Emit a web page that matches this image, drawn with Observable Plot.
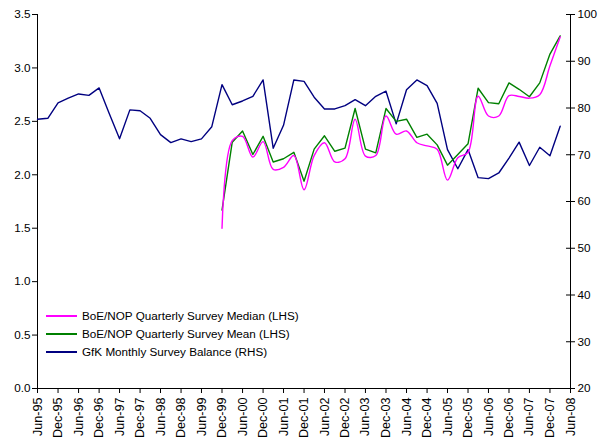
<!DOCTYPE html>
<html><head><meta charset="utf-8">
<script src="https://cdn.jsdelivr.net/npm/d3@7"></script>
<script src="https://cdn.jsdelivr.net/npm/@observablehq/plot@0.6"></script>
<style>
body{margin:0;background:#fff;font-family:"Liberation Sans",Arial,sans-serif}
#wrap{position:relative;width:598px;height:439px}
#legend{position:absolute;left:46px;top:307px;font-size:11.7px;color:#000;line-height:18px}
#legend .row{display:flex;align-items:center;height:18px}
#legend .sw{width:31px;height:0;border-top:2px solid;margin-right:5px}
</style></head>
<body><div id="wrap"><div id="chart"></div>
<div id="legend"></div></div>
<script>
// ---- data (quarterly observations) ----
const gfkStart = "Jun-95";
const gfkBalance = [77.6,77.8,81.1,82.1,83.0,82.7,84.3,78.8,73.4,79.6,79.4,77.8,74.3,72.6,73.4,72.8,73.4,76.0,85.0,80.7,81.5,82.5,86.0,71.4,76.3,86.0,85.7,82.3,79.8,79.8,80.5,81.8,80.5,82.5,83.6,76.6,83.9,86.0,84.8,81.0,71.1,67.0,71.1,65.1,64.9,66.1,69.3,72.7,67.7,71.6,69.8,76.1];
const boeStart = "Dec-99";
const boeMedian = [1.50,2.32,2.36,2.165,2.31,2.05,2.07,2.18,1.86,2.18,2.30,2.12,2.15,2.52,2.175,2.18,2.55,2.38,2.41,2.30,2.27,2.24,1.95,2.16,2.21,2.735,2.55,2.55,2.74,2.733,2.717,2.75,3.02,3.29];
const boeMean   = [1.67,2.305,2.41,2.19,2.36,2.12,2.15,2.21,1.94,2.24,2.365,2.22,2.25,2.62,2.24,2.205,2.62,2.50,2.52,2.35,2.38,2.28,2.09,2.19,2.29,2.81,2.675,2.665,2.86,2.80,2.73,2.86,3.13,3.30];
const xTickLabels = ["Jun-95","Dec-95","Jun-96","Dec-96","Jun-97","Dec-97","Jun-98","Dec-98","Jun-99","Dec-99","Jun-00","Dec-00","Jun-01","Dec-01","Jun-02","Dec-02","Jun-03","Dec-03","Jun-04","Dec-04","Jun-05","Dec-05","Jun-06","Dec-06","Jun-07","Dec-07","Jun-08"];
const leftTicks = [0,0.5,1,1.5,2,2.5,3,3.5];
const rightTicks = [20,30,40,50,60,70,80,90,100];
const seriesNames = ["BoE/NOP Quarterly Survey Median (LHS)","BoE/NOP Quarterly Survey Mean (LHS)","GfK Monthly Survey Balance (RHS)"];
const seriesColors = ["#ff00ff","#008000","#000080"];

// ---- helpers ----
const parse = d3.utcParse("%b-%y");
const fmt = d3.utcFormat("%b-%y");
const q = (start, i) => d3.utcMonth.offset(parse(start), 3 * i);
const rMin = 20, rMax = 100, lMax = 3.5;
const toLeft = v => (v - rMin) / (rMax - rMin) * lMax;
const toRight = v => v / lMax * (rMax - rMin) + rMin;

const gfk = gfkBalance.map((v, i) => ({date: q(gfkStart, i), y: toLeft(v)}));
const med = boeMedian.map((v, i) => ({date: q(boeStart, i), y: v}));
const mean = boeMean.map((v, i) => ({date: q(boeStart, i), y: v}));
const xTicks = xTickLabels.map(parse);
const xDomain = [xTicks[0], xTicks[xTicks.length - 1]];

const chart = Plot.plot({
  width: 598, height: 439,
  marginLeft: 37, marginRight: 28, marginTop: 14, marginBottom: 51,
  style: {fontFamily: '"Liberation Sans", Arial, sans-serif', fontSize: "11.7px", color: "#000", background: "#fff"},
  x: {type: "utc", domain: xDomain},
  y: {domain: [0, lMax]},
  marks: [
    Plot.axisY(leftTicks, {anchor: "left", tickSize: 5, tickPadding: 2, tickFormat: d3.format(".1f"), label: null}),
    Plot.axisY(rightTicks.map(toLeft), {anchor: "right", tickSize: 4, tickPadding: 3, tickFormat: d => String(Math.round(toRight(d))), label: null}),
    Plot.axisY(rightTicks.map(toLeft), {anchor: "right", tickSize: -5, text: null, label: null}),
    Plot.axisX(xTicks, {anchor: "bottom", tickSize: 5, tickPadding: 4, tickRotate: -90, tickFormat: fmt, label: null, fontSize: "12.6px"}),
    Plot.ruleX(xDomain, {stroke: "#000"}),
    Plot.ruleY([0], {stroke: "#000"}),
    Plot.line(gfk, {x: "date", y: "y", stroke: seriesColors[2], strokeWidth: 1.4}),
    Plot.line(mean, {x: "date", y: "y", stroke: seriesColors[1], strokeWidth: 1.4}),
    Plot.line(med, {x: "date", y: "y", stroke: seriesColors[0], strokeWidth: 1.4, curve: "catmull-rom"})
  ]
});
document.getElementById("chart").appendChild(chart);

const legend = document.getElementById("legend");
seriesNames.forEach((n, i) => {
  const row = document.createElement("div");
  row.className = "row";
  const sw = document.createElement("span");
  sw.className = "sw";
  sw.style.borderColor = seriesColors[i];
  const t = document.createElement("span");
  t.textContent = n;
  row.appendChild(sw); row.appendChild(t);
  legend.appendChild(row);
});
</script></body></html>
